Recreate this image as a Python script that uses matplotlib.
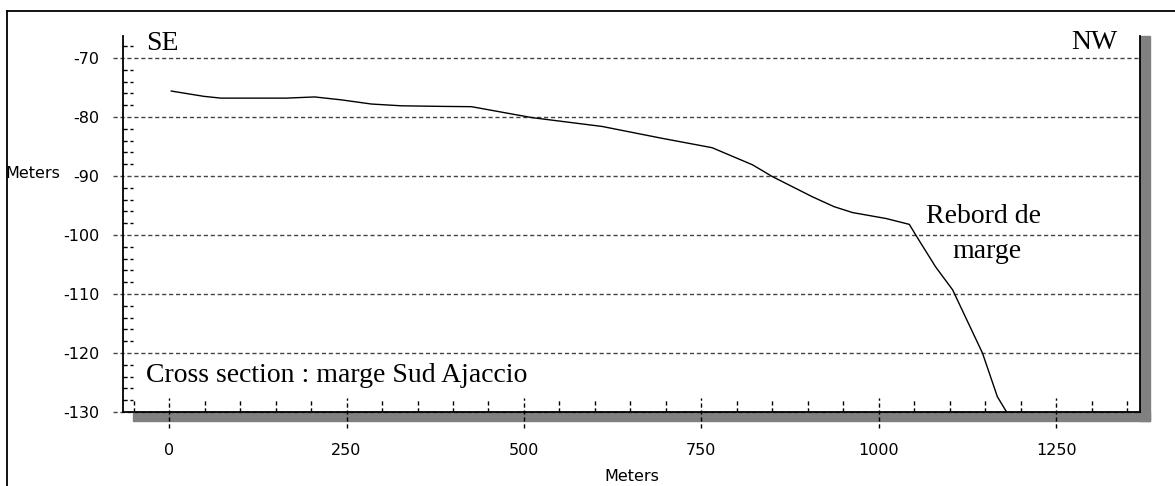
import matplotlib.pyplot as plt
from matplotlib.patches import Rectangle
from matplotlib.lines import Line2D

plt.rcParams['axes.unicode_minus'] = False

# profil bathymetrique (distance en m, profondeur en m)
distance = [3, 49, 73, 165, 205, 243, 285, 327, 384, 426, 511, 610, 694, 765,
            822, 850, 878, 906, 937, 963, 1010, 1043, 1052, 1080, 1104, 1146,
            1167, 1180]
profondeur = [-75.6, -76.5, -76.8, -76.8, -76.6, -77.1, -77.8, -78.1, -78.2,
              -78.25, -80.1, -81.6, -83.6, -85.2, -88.1, -90.1, -91.8, -93.5,
              -95.2, -96.2, -97.2, -98.2, -100.0, -105.4, -109.3, -120.0,
              -127.4, -130.0]

xticks = [0, 250, 500, 750, 1000, 1250]
xminor = [-50, 50, 100, 150, 200, 300, 350, 400, 450, 550, 600, 650, 700,
          800, 850, 900, 950, 1050, 1100, 1150, 1200, 1300, 1350]
yticks = [-130, -120, -110, -100, -90, -80, -70]
ylabels = ['-130', '-120', '-110', '-100', '-90', '-80', '-70']
yminor = [v for v in range(-128, -66, 2) if v % 10 != 0]

W, H = 1175, 486
fig = plt.figure(figsize=(W / 100, H / 100), dpi=100)
ax = fig.add_axes([123 / W, 1 - 412 / H, (1140 - 123) / W, (412 - 36) / H])
ax.set_xlim(-65, 1368)
ax.set_ylim(-130, -66.27)

aw, ah = 1140 - 123, 412 - 36
grey = '#444444'
dash = (0, (3, 2))

# grille pointillee + grands traits sur l'axe y
for v in yticks:
    ax.axhline(v, xmin=-10 / aw, xmax=1, color=grey, lw=1, ls=dash, clip_on=False, zorder=1)
for v in yminor:
    ax.axhline(v, xmin=0, xmax=10 / aw, color='black', lw=1, ls=dash, zorder=1)

# traits de l'axe x
for v in xticks:
    ax.axvline(v, ymin=-16 / ah, ymax=14 / ah, color='black', lw=1, ls=dash, clip_on=False, zorder=1)
for v in xminor:
    ax.axvline(v, ymin=0, ymax=13 / ah, color='black', lw=1, ls=dash, zorder=1)

ax.plot(distance, profondeur, color='black', lw=1, zorder=3)

# ombre grise en bas et a droite
ax.add_patch(Rectangle((10 / aw, -9 / ah), 1, 9 / ah, transform=ax.transAxes,
                       color='#808080', clip_on=False, zorder=0))
ax.add_patch(Rectangle((1, -9 / ah), 10 / aw, 1 + 9 / ah, transform=ax.transAxes,
                       color='#808080', clip_on=False, zorder=0))

ax.set_xticks(xticks)
ax.set_xticklabels([str(v) for v in xticks])
ax.set_yticks(yticks)
ax.set_yticklabels(ylabels)
ax.tick_params(length=0, labelsize=11.5, colors='black')
ax.tick_params(axis='x', pad=22)
ax.tick_params(axis='y', pad=17)
ax.spines['top'].set_visible(False)
for s in ['left', 'right', 'bottom']:
    ax.spines[s].set_linewidth(1.3)
    ax.spines[s].set_color('black')

ax.set_xlabel('Meters', fontsize=11.5, labelpad=8)
fig.text(5 / W, 1 - 173 / H, 'Meters', fontsize=11.5, va='center', ha='left')

serif = 'Liberation Serif'
fig.text(146 / W, 1 - 50 / H, 'SE', family=serif, fontsize=20, va='baseline')
fig.text(1117 / W, 1 - 49 / H, 'NW', family=serif, fontsize=20, va='baseline', ha='right')
fig.text(146 / W, 1 - 382 / H, 'Cross section : marge Sud Ajaccio', family=serif,
         fontsize=20, va='baseline')
fig.text(983 / W, 1 - 223 / H, 'Rebord de', family=serif, fontsize=20,
         va='baseline', ha='center')
fig.text(987 / W, 1 - 258 / H, 'marge', family=serif, fontsize=20,
         va='baseline', ha='center')

# cadre exterieur
fig.add_artist(Line2D([7 / W, 1], [1 - 11 / H, 1 - 11 / H], color='black', lw=1.3))
fig.add_artist(Line2D([7 / W, 7 / W], [0, 1 - 11 / H], color='black', lw=1.3))

fig.savefig('out.png', dpi=100)
